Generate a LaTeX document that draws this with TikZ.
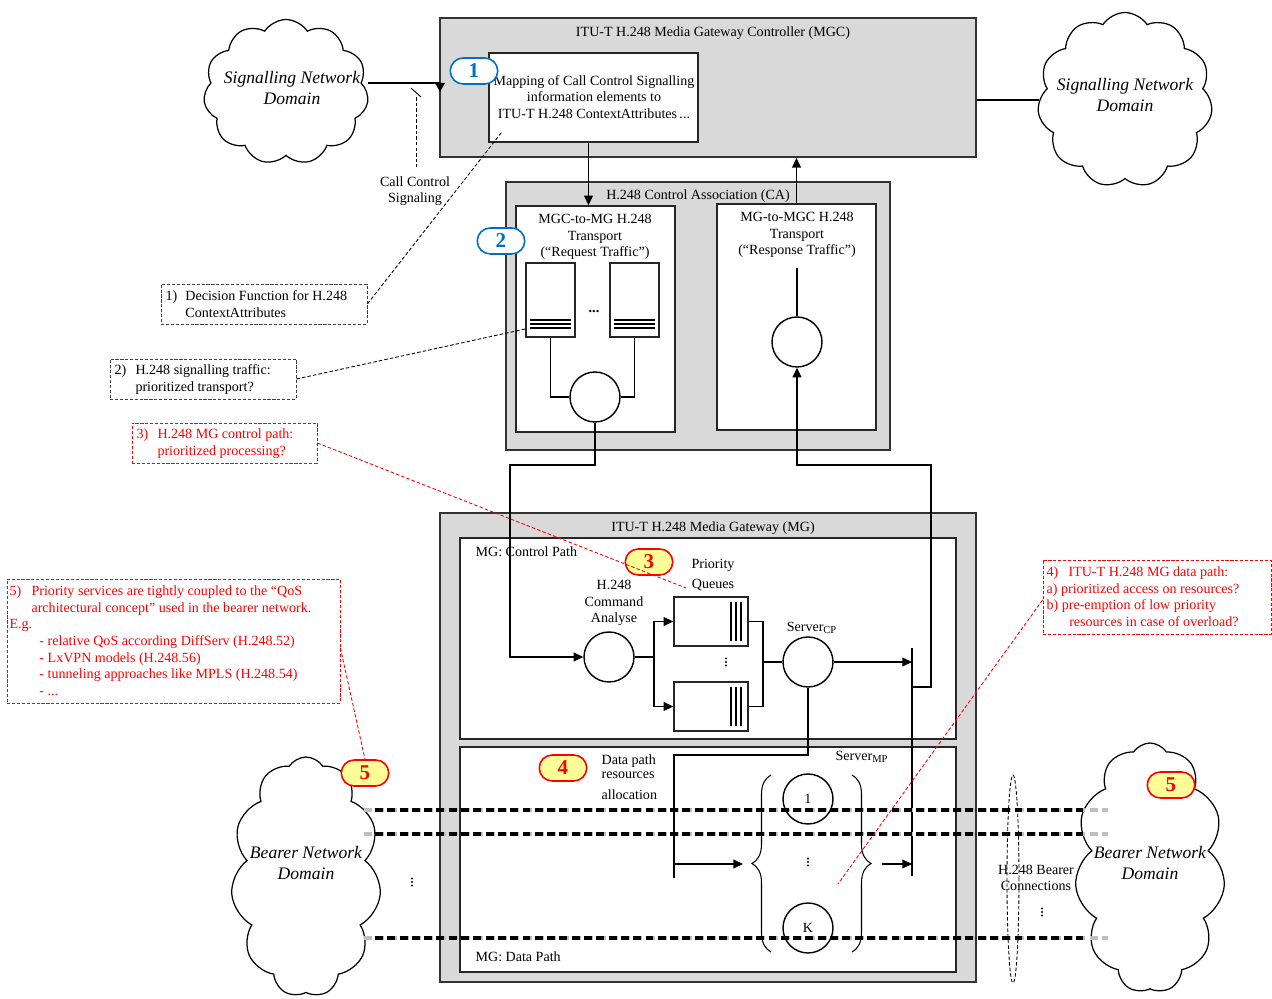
\documentclass[tikz,border=0pt]{standalone}
\usepackage{fontspec}
\setmainfont{Liberation Serif}
\usetikzlibrary{shapes.symbols,shapes.geometric,arrows.meta,decorations.pathreplacing,fit}
\definecolor{panelgray}{RGB}{217,217,217}
\definecolor{numblue}{RGB}{0,112,192}
\definecolor{numyellow}{RGB}{255,255,153}

\begin{document}
\begin{tikzpicture}[
	x=0.02cm, y=-0.02cm, line width=0.7pt,
	every node/.style={font=\fontsize{8}{9.5}\selectfont, inner sep=0pt},
	graybox/.style={draw=black!80, line width=1pt, fill=panelgray, fit={#1}},
	whitebox/.style={draw=black!85, line width=0.8pt, fill=white, fit={#1}},
	notebox/.style={draw=black!75, dash pattern=on 1.8pt off 1pt, line width=0.45pt, fit={#1}},
	rednote/.style={notebox={#1}, draw=red},
	srv/.style={circle, draw, line width=0.8pt, fill=white, minimum size=1cm},
	badge/.style={rectangle, rounded corners=0.26cm, minimum width=0.95cm, minimum height=0.52cm,
		line width=0.9pt, font=\fontsize{12}{12}\selectfont\bfseries},
	bluebadge/.style={badge, draw=numblue, fill=white, text=numblue},
	yellowbadge/.style={badge, draw=red, fill=numyellow, text=red},
	netcloud/.style={cloud, cloud puffs=11, cloud puff arc=115, cloud ignores aspect, draw, line width=0.7pt, fill=white},
	cloudtext/.style={font=\fontsize{10}{11.5}\selectfont\itshape, align=center},
	flow/.style={-{Triangle[length=5.5pt,width=5pt]}},
	link/.style={dash pattern=on 2pt off 1.2pt, line width=0.5pt},
	redlink/.style={link, draw=red},
	bearer/.style={line width=1.8pt, dash pattern=on 4.5pt off 2.5pt},
	bearerend/.style={bearer, draw=black!25}
	]
	\useasboundingbox (0,0) rectangle (1272,999);

	% signalling network domains
	\node[netcloud, minimum width=3.3cm, minimum height=2.9cm] (sigL) at (286,92) {};
	\node[cloudtext] at (292,88) {Signalling Network\\Domain};
	\node[netcloud, minimum width=3.5cm, minimum height=3.5cm] (sigR) at (1125,100) {};
	\node[cloudtext] at (1125,95) {Signalling Network\\Domain};

	% MGC
	\node[graybox={(440,18)(976,157)}] (mgc) {};
	\node (mgctitle) at (713,33) {ITU-T H.248 Media Gateway Controller (MGC)};
	\node[whitebox={(489,53)(698,142)}] (mapbox) {};
	\node[align=center] (maptext) at (594,97) {Mapping of Call Control Signalling\\information elements to\\ITU-T H.248 ContextAttributes\,...};
	\node[bluebadge] (num1) at (474,71) {1};

	\coordinate (mgcin) at (440,83);
	\draw (sigL.east |- mgcin) -- (mgcin);
	\fill (mgcin) ++(-5,0) -- ++(10,0) -- ++(-5,9) -- cycle;
	\draw (mgc.east |- sigR.west) -- (sigR.west);

	\coordinate (cctop) at (416,97);
	\coordinate (ccbot) at (416,167);
	\draw[link] (cctop) -- (ccbot);
	\draw[line width=0.5pt] (411,88) -- (421,97);
	\node[align=center] (cclabel) at (415,191) {Call Control\\Signaling};

	% control association
	\node[graybox={(506,182)(890,450)}] (ca) {};
	\node (catitle) at (698,196) {H.248 Control Association (CA)};
	\node[whitebox={(516,206)(675,432)}] (req) {};
	\node[whitebox={(717,204)(876,430)}] (resp) {};
	\node[align=center] at (595,237) {MGC-to-MG H.248\\Transport\\(“Request Traffic”)};
	\node[align=center] at (797,235) {MG-to-MGC H.248\\Transport\\(“Response Traffic”)};
	\node[bluebadge] (num2) at (501,241) {2};
	\node[whitebox={(526,263)(575,337)}] (rq1) {};
	\node[whitebox={(610,263)(659,337)}] (rq2) {};
	\foreach \y in {320,324,328} {
		\draw[line width=0.6pt] (530,\y) -- (571,\y);
		\draw[line width=0.6pt] (614,\y) -- (655,\y);
	}
	\node at (594,312) {\textbf{...}};
	\node[srv] (rqsrv) at (595,397) {};
	\node[srv] (rpsrv) at (797,342) {};
	\coordinate (rptop) at (797,268);
	\draw (rq1.south) |- (rqsrv.west);
	\draw (rq2.south) |- (rqsrv.east);
	\draw (rptop) -- (rpsrv.north);

	\draw[flow] ([xshift=-0.1cm]mapbox.south) -- ([xshift=-0.1cm]mapbox.south |- req.north);
	\draw[flow] (resp.north) -- (resp.north |- mgc.south);

	% media gateway
	\node[graybox={(440,513)(976,982)}] (mg) {};
	\node (mgtitle) at (713,528) {ITU-T H.248 Media Gateway (MG)};
	\node[whitebox={(460,538)(956,739)}] (cpath) {};
	\node[whitebox={(460,747)(956,972)}] (dpath) {};
	\node[anchor=west] at (475,552) {MG: Control Path};
	\node[anchor=west] at (475,957) {MG: Data Path};

	% control path
	\node[align=center] (pqlabel) at (713,575) {Priority\\[2pt]Queues};
	\node[align=center] at (614,603) {H.248\\Command\\Analyse};
	\node[srv] (cmd) at (609,657) {};
	\node[whitebox={(674,597)(748,646)}] (pq1) {};
	\node[whitebox={(674,682)(748,731)}] (pq2) {};
	\foreach \x in {731,736,741} {
		\draw[line width=0.6pt] (\x,602) -- (\x,641);
		\draw[line width=0.6pt] (\x,687) -- (\x,726);
	}
	\node[srv] (srvcp) at (808,662) {};
	\node at (812,628) {Server\textsubscript{CP}};
	\coordinate (split) at (654,657);
	\coordinate (join) at (763,662);
	\draw (cmd.east) -- (split);
	\draw[flow] (split) |- (pq1.west);
	\draw[flow] (split) |- (pq2.west);
	\draw (pq1.east) -| (join) |- (pq2.east);
	\draw (join) -- (srvcp.west);
	\coordinate (bartop) at (912,648);
	\coordinate (barbot) at (912,876);
	\coordinate (ret) at (912,687);
	\draw (bartop) -- (barbot);
	\draw[flow] (srvcp.east) -- (srvcp.east -| bartop);
	\draw[flow] (ret) -| (931,465) -| (rpsrv.south);
	\draw[flow] (rqsrv.south) |- (510,465) |- (cmd.west);
	\node[yellowbadge] (num3) at (649,562) {3};

	% data path
	\node[yellowbadge] (num4) at (563,768) {4};
	\node[align=left, anchor=west] at (601,777) {Data path\\[-1.5pt]resources\\[2.5pt]allocation};
	\node[srv] (mp1) at (808,799) {1};
	\node[srv] (mpk) at (808,928) {K};
	\node at (862,757) {Server\textsubscript{MP}};
	\draw[decorate, decoration={brace, amplitude=0.38cm}, line width=0.6pt] (771,952) -- (771,775);
	\draw[decorate, decoration={brace, amplitude=0.38cm}, line width=0.6pt] (852,775) -- (852,952);
	\coordinate (mpfeed) at (674,755);
	\coordinate (mpend) at (674,878);
	\coordinate (mpin) at (674,864);
	\coordinate (mpleft) at (743,864);
	\coordinate (mpright) at (882,864);
	\draw (srvcp.south) |- (mpfeed) -- (mpend);
	\draw[flow] (mpin) -- (mpleft);
	\draw[flow] (mpright) -- (mpright -| barbot);

	% bearer network domains
	\node[netcloud, minimum width=3.0cm, minimum height=4.8cm] (bearL) at (306,877) {};
	\node[cloudtext] (bearLtext) at (306,863) {Bearer Network\\Domain};
	\node[netcloud, minimum width=3.0cm, minimum height=5.0cm] (bearR) at (1150,868) {};
	\node[cloudtext] (bearRtext) at (1150,863) {Bearer Network\\Domain};
	\foreach \y in {810,834,938} {
		\draw[bearerend] (364,\y) -- (1108,\y);
		\draw[bearer] (375,\y) -- (1083,\y);
	}
	\node[ellipse, draw, dash pattern=on 2pt off 1.2pt, line width=0.5pt, minimum width=0.24cm, minimum height=4.16cm] (bundle) at (1013,879) {};
	\node[align=center] at (1036,878) {H.248 Bearer\\Connections};
	\node[yellowbadge] (num5a) at (365,773) {5};
	\node[yellowbadge] (num5b) at (1171,785) {5};

	% vertical dots
	\foreach \px/\py in {726/662, 808/862, 412/882, 1042/912}
		\foreach \d in {-3.5,0,3.5}
			\fill (\px,\py+\d) circle (0.7pt);

	% notes
	\node[notebox={(161,284)(367,324)}] (note1) {};
	\node[anchor=north west, align=left] at (165,290) {\makebox[11.3pt][l]{1)}Decision Function for H.248\\\hspace*{11.3pt}ContextAttributes};
	\node[notebox={(110,359)(296,399)}] (note2) {};
	\node[anchor=north west, align=left] at (114,364) {\makebox[11.9pt][l]{2)}H.248 signalling traffic:\\\hspace*{11.9pt}prioritized transport?};
	\node[rednote={(132,423)(317,463)}] (note3) {};
	\node[anchor=north west, align=left, text=red] at (136,428) {\makebox[11.9pt][l]{3)}H.248 MG control path:\\\hspace*{11.9pt}prioritized processing?};
	\node[rednote={(7,579)(340,703)}] (note5) {};
	\node[anchor=north west, align=left, text=red] at (9,585) {\makebox[12.5pt][l]{5)}Priority services are tightly coupled to the “QoS\\\hspace*{12.5pt}architectural concept” used in the bearer network.\\E.g.\\\hspace*{17pt}- relative QoS according DiffServ (H.248.52)\\\hspace*{17pt}- LxVPN models (H.248.56)\\\hspace*{17pt}- tunneling approaches like MPLS (H.248.54)\\\hspace*{17pt}- ...};
	\node[rednote={(1043,560)(1271,634)}] (note4) {};
	\node[anchor=north west, align=left, text=red] at (1046,566) {\makebox[12.5pt][l]{4)}ITU-T H.248 MG data path:\\a) prioritized access on resources?\\b) pre-emption of low priority\\\hspace*{12.9pt}resources in case of overload?};

	% note links
	\coordinate (pqtip) at (686,588);
	\coordinate (mptip) at (838,884);
	\draw[link] ([xshift=0.26cm,yshift=0.2cm]mapbox.south west) -- (note1.east);
	\draw[link] (note2.east) -- ([yshift=-0.58cm]rq1.west);
	\draw[redlink] (note3.east) -- (pqtip);
	\draw[redlink] ([yshift=-0.06cm]note4.west) -- (mptip);
	\draw[redlink] ([yshift=-0.14cm]note5.east) -- (num5a.north);
\end{tikzpicture}
\end{document}
